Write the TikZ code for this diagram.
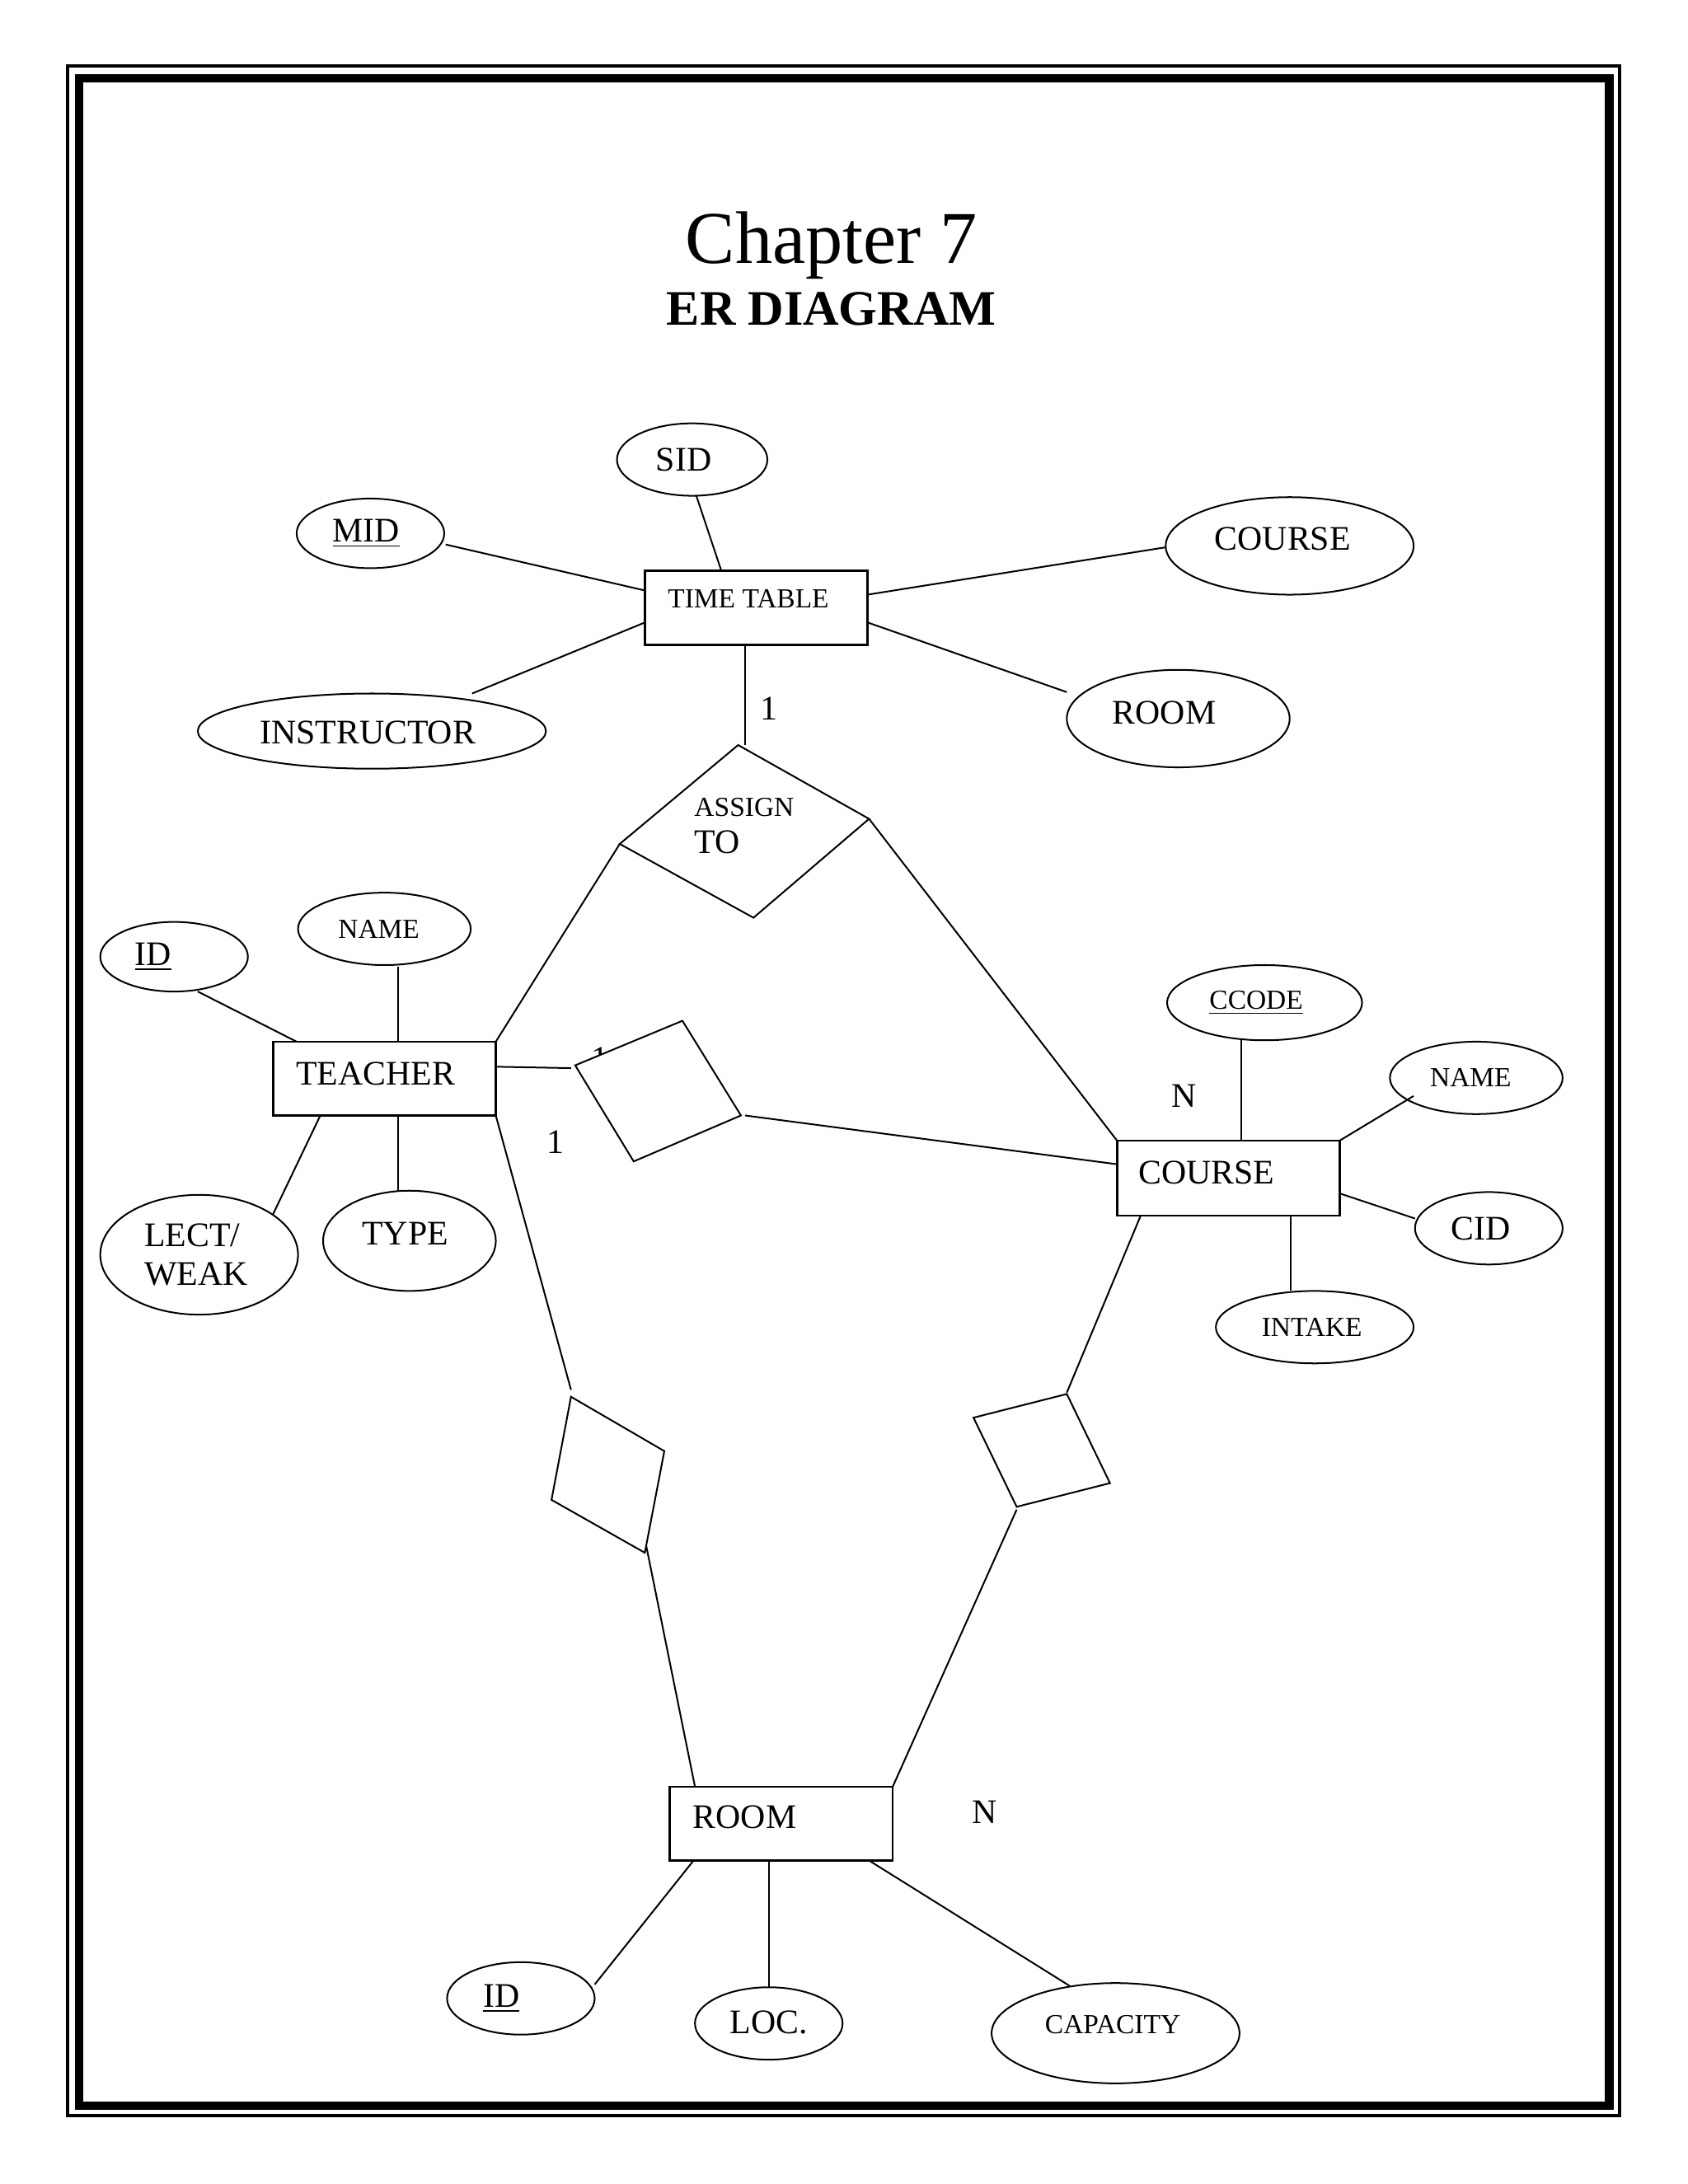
\documentclass[tikz,border=0pt]{standalone}
\usepackage{fontspec}
\setmainfont{Liberation Serif}
\begin{document}
\begin{tikzpicture}[x=0.505pt,y=-0.505pt,line width=0.6pt,
  big/.style={font=\fontsize{12.5}{14}\selectfont,inner sep=0},
  small/.style={font=\fontsize{10}{12}\selectfont,inner sep=0},
  ent/.style={draw,line width=0.8pt}]
\useasboundingbox (0,0) rectangle (1211.9,1568.3);
\fill[white] (0,0) rectangle (1211.9,1568.3);
% border
\draw[line width=1.1pt] (48.5,47.5) rectangle (1163,1519);
\draw[line width=3pt] (57,56) rectangle (1155.5,1512);
% title
\node (t1) at (597,176) {\fontsize{27}{30}\selectfont Chapter 7};
\node (t2) at (597,222) {\fontsize{18}{20}\selectfont\bfseries ER DIAGRAM};
% TIME TABLE
\draw[ent] (463,410) rectangle (623,463);
\node[small,anchor=west] (tt) at (479,430) {TIME TABLE};
\draw (497,330) ellipse (54 and 26); \node[big] (sid) at (491,330) {SID};
\draw (266,383) ellipse (53 and 25); \node[big] (mid) at (263,383) {\underline{MID}};
\draw (926,392) ellipse (89 and 35); \node[big] (co1) at (921,387) {COURSE};
\draw (267,525) ellipse (125 and 27); \node[big] (ins) at (264,526) {INSTRUCTOR};
\draw (846,516) ellipse (80 and 35); \node[big] (ro1) at (836,512) {ROOM};
\draw (500,356) -- (518,410);
\draw (320,391) -- (463,424);
\draw (837,393) -- (623,427);
\draw (339,498) -- (463,447);
\draw (766,497) -- (623,447);
\draw (535,463) -- (535,535);
\node[big] (one1) at (552,509) {1};
% ASSIGN TO
\draw (530,535) -- (624,588) -- (541,659) -- (445,606) -- cycle;
\node[small,anchor=west] (as) at (498,580) {ASSIGN};
\node[big,anchor=west] (to) at (498,605) {TO};
% TEACHER
\draw[ent] (196,748) rectangle (356,801);
\node[big,anchor=west] (te) at (212,771) {TEACHER};
\draw (276,667) ellipse (62 and 26); \node[small] (nm1) at (272,667) {NAME};
\draw (125,687) ellipse (53 and 25); \node[big] (id1) at (110,687) {\underline{ID}};
\draw (143,901) ellipse (71 and 43); \node[big,align=left,anchor=west] (lw) at (103,901) {LECT/\\WEAK};
\draw (294,891) ellipse (62 and 36); \node[big] (ty) at (291,886) {TYPE};
\draw (286,694) -- (286,748);
\draw (142,712) -- (213,748);
\draw (230,801) -- (196,872);
\draw (286,801) -- (286,855);
\draw (445,606) -- (356,748);
\draw (624,588) -- (802,819);
% middle diamond (hides most of a "1")
\node[big] (one3) at (431,760) {1};
\filldraw[fill=white] (413,765) -- (490,733) -- (532,801) -- (455,834) -- cycle;
\draw (356,766) -- (410,767);
\draw (535,801) -- (802,836);
\node[big] (one2) at (399,820) {1};
% COURSE
\draw[ent] (802,819) rectangle (962,873);
\node[big,anchor=west] (co2) at (817,842) {COURSE};
\node[big] (n1) at (850,787) {N};
\draw (908,720) ellipse (70 and 27); \node[small] (cc) at (902,720) {\underline{CCODE}};
\draw (1060,774) ellipse (62 and 26); \node[small] (nm2) at (1056,774) {NAME};
\draw (1069,882) ellipse (53 and 26); \node[big] (cid) at (1063,882) {CID};
\draw (944,953) ellipse (71 and 26); \node[small] (in) at (942,953) {INTAKE};
\draw (891,747) -- (891,819);
\draw (1015,787) -- (962,819);
\draw (1016,875) -- (962,857);
\draw (927,873) -- (927,927);
% lower diamonds
\draw (410,1003) -- (477,1042) -- (463,1115) -- (396,1077) -- cycle;
\draw (356,801) -- (410,998);
\draw (464,1110) -- (499,1283);
\draw (699,1018) -- (766,1001) -- (797,1065) -- (730,1082) -- cycle;
\draw (819,873) -- (766,1000);
\draw (730,1084) -- (641,1283);
% ROOM
\draw[ent] (481,1283) rectangle (641,1336);
\node[big,anchor=west] (ro2) at (497,1305) {ROOM};
\node[big] (n2) at (707,1301) {N};
\draw (374,1435) ellipse (53 and 26); \node[big] (id2) at (360,1435) {\underline{ID}};
\draw (552,1453) ellipse (53 and 26); \node[big] (loc) at (552,1452) {LOC.};
\draw (801,1460) ellipse (89 and 36); \node[small] (cap) at (799,1454) {CAPACITY};
\draw (498,1336) -- (427,1425);
\draw (552,1336) -- (552,1427);
\draw (624,1336) -- (768,1426);
\end{tikzpicture}
\end{document}
